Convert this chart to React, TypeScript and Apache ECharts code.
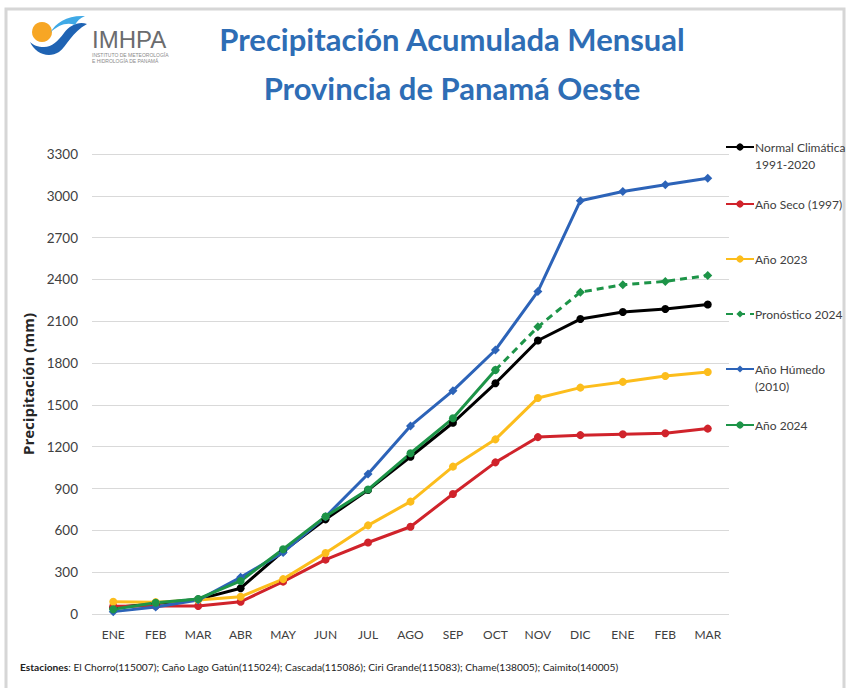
import React, { useEffect, useRef } from "react";
import * as echarts from "echarts";

const months = ["ENE", "FEB", "MAR", "ABR", "MAY", "JUN", "JUL", "AGO", "SEP", "OCT", "NOV", "DIC", "ENE", "FEB", "MAR"];
const normal = [45, 75, 105, 185, 450, 679, 889, 1128, 1372, 1655, 1962, 2116, 2166, 2188, 2220];
const seco = [55, 57, 57, 88, 232, 390, 513, 626, 861, 1088, 1269, 1283, 1290, 1297, 1330];
const y2023 = [88, 85, 100, 124, 250, 437, 636, 806, 1057, 1253, 1550, 1624, 1665, 1707, 1736];
const pronostico = [null, null, null, null, null, null, null, null, null, 1750, 2060, 2309, 2362, 2386, 2429];
const humedo = [17, 50, 100, 263, 442, 698, 1004, 1349, 1602, 1894, 2314, 2965, 3031, 3079, 3126];
const y2024 = [34, 81, 108, 237, 465, 700, 893, 1153, 1404, 1750];
const yTicks = { min: 0, max: 3300, interval: 300 };

const FONT = "Lato, 'Liberation Sans', sans-serif";

echarts.graphic.registerShape(
  "waveDark",
  echarts.graphic.extendPath(
    "M30 42 C35 53 48 59 59 52 C67 46 72 32 87 24 C79 21 70 25 64 33 C58 41 52 47 44 47 C38 47 33 45 30 42 Z",
    {}
  )
);
echarts.graphic.registerShape(
  "waveLight",
  echarts.graphic.extendPath(
    "M50 33 C56 22 68 15 85 16 C80 18 77 21 75 25 C67 22 58 25 50 33 Z",
    {}
  )
);

export default function App() {
  const ref = useRef<HTMLDivElement>(null);
  useEffect(() => {
    const chart = echarts.init(ref.current!, null, { renderer: "svg" });
    const legendTops = [147, 204, 259, 314, 369, 425];
    const names = [
      "Normal Climática 1991-2020",
      "Año Seco (1997)",
      "Año 2023",
      "Pronóstico 2024",
      "Año Húmedo (2010)",
      "Año 2024",
    ];
    const labels: Record<string, string> = {
      "Normal Climática 1991-2020": "\nNormal Climática\n1991-2020",
      "Año Húmedo (2010)": "\nAño Húmedo\n(2010)",
    };
    const legends = names.map((n, i) => {
      const multi = !!labels[n];
      return {
        data: [n],
        orient: "vertical",
        left: 725,
        top: legendTops[i] - (multi ? 25.5 : 8.5),
        padding: 0,
        itemWidth: 28,
        itemHeight: 9,
        formatter: (name: string) => labels[name] || name,
        textStyle: { fontFamily: FONT, fontSize: 12, color: "#404040", lineHeight: 17, padding: [0, 0, 0, -4] },
        selectedMode: false,
      };
    });
    const mk = (name: string, data: (number | null)[], color: string, symbol = "circle", dashed = false) => ({
      name,
      type: "line",
      data,
      symbol,
      symbolSize: symbol === "diamond" ? 9 : 8,
      showSymbol: true,
      lineStyle: { color, width: 3, type: dashed ? [7, 5] : "solid" },
      itemStyle: { color },
      connectNulls: false,
    });
    chart.setOption({
      animation: false,
      backgroundColor: "#ffffff",
      title: [
        {
          text: "Precipitación Acumulada Mensual",
          left: 447,
          top: 18,
          textAlign: "center",
          textStyle: { fontFamily: FONT, fontWeight: "bold", fontSize: 31, color: "#2e6db5" },
        },
        {
          text: "Provincia de Panamá Oeste",
          left: 447,
          top: 67,
          textAlign: "center",
          textStyle: { fontFamily: FONT, fontWeight: "bold", fontSize: 31, color: "#2e6db5" },
        },
      ],
      legend: legends,
      grid: { left: 92, right: 121, top: 154, bottom: 74 },
      xAxis: {
        type: "category",
        data: months,
        boundaryGap: true,
        axisLine: { show: false },
        axisTick: { show: false },
        axisLabel: { fontFamily: FONT, fontSize: 12, color: "#404040", margin: 14, interval: 0 },
      },
      yAxis: {
        type: "value",
        min: yTicks.min,
        max: yTicks.max,
        interval: yTicks.interval,
        name: "Precipitación (mm)",
        nameLocation: "middle",
        nameGap: 50,
        nameTextStyle: { fontFamily: "'Open Sans', sans-serif", fontWeight: "bold", fontSize: 15, color: "#262626" },
        axisLine: { show: false },
        axisTick: { show: false },
        axisLabel: { fontFamily: FONT, fontSize: 13.5, color: "#404040", margin: 14, formatter: (v: number) => String(v) },
        splitLine: { lineStyle: { color: "#d9d9d9", width: 1.2 } },
      },
      series: [
        mk("Normal Climática 1991-2020", normal, "#000000"),
        mk("Año Seco (1997)", seco, "#d0232b"),
        mk("Año 2023", y2023, "#fcbd1c"),
        mk("Año Húmedo (2010)", humedo, "#2c63b8", "diamond"),
        mk("Pronóstico 2024", pronostico, "#1d9448", "diamond", true),
        mk("Año 2024", y2024, "#1d9448"),
      ],
      graphic: [
        {
          type: "rect",
          shape: { x: 6, y: 9, width: 838, height: 700 },
          style: { fill: "none", stroke: "#d6d6d6", lineWidth: 3 },
          silent: true,
        },
        { type: "circle", shape: { cx: 42, cy: 32, r: 10 }, style: { fill: "#f7a624" } },
        { type: "waveDark", x: 0, y: 0, style: { fill: "#1f63b3" } },
        { type: "waveLight", x: 0, y: 0, style: { fill: "#3fa9e6" } },
        {
          type: "text",
          x: 92,
          y: 39,
          style: { text: "IMHPA", font: "24px 'Liberation Sans', sans-serif", fill: "#6b6c6e", verticalAlign: "middle" },
        },
        {
          type: "text",
          x: 92,
          y: 55,
          style: { text: "INSTITUTO DE METEOROLOGÍA", font: "5px 'Liberation Sans', sans-serif", fill: "#8a8a8a", verticalAlign: "middle" },
        },
        {
          type: "text",
          x: 92,
          y: 61,
          style: { text: "E HIDROLOGÍA DE PANAMÁ", font: "5px 'Liberation Sans', sans-serif", fill: "#8a8a8a", verticalAlign: "middle" },
        },
        {
          type: "text",
          x: 20,
          y: 667,
          style: {
            text: "{b|Estaciones}: El Chorro(115007); Caño Lago Gatún(115024); Cascada(115086); Ciri Grande(115083); Chame(138005); Caimito(140005)",
            font: `10.2px ${FONT}`,
            fill: "#222222",
            verticalAlign: "middle",
            rich: { b: { fontWeight: "bold", fontFamily: FONT, fontSize: 10.2, fill: "#222222" } },
          },
        },
      ],
    });
    return () => chart.dispose();
  }, []);
  return <div ref={ref} style={{ position: "fixed", left: 0, top: 0, width: 850, height: 688 }} />;
}
